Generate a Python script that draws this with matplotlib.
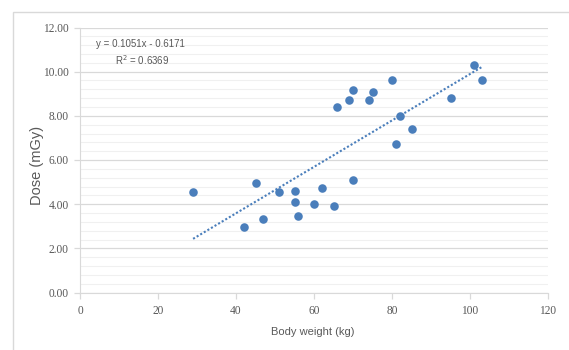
import matplotlib
matplotlib.use("Agg")
import matplotlib.pyplot as plt
import numpy as np
from matplotlib.patches import Rectangle

# body weight (kg) vs dose (mGy)
weight = [29, 42, 45, 47, 51, 55, 55, 56, 60, 62, 65, 66,
          69, 70, 70, 74, 75, 80, 81, 82, 85, 95, 101, 103]
dose = [4.56, 2.95, 4.94, 3.34, 4.56, 4.59, 4.08, 3.45, 4.02, 4.75, 3.93, 8.39,
        8.70, 9.17, 5.09, 8.73, 9.08, 9.64, 6.71, 8.01, 7.39, 8.80, 10.31, 9.64]

slope = 0.1051
intercept = -0.6171
r2 = 0.6369

xticks = [0, 20, 40, 60, 80, 100, 120]
yticks = [0, 2, 4, 6, 8, 10, 12]

blue = "#4a7ebb"
txt = "#595959"
sans = ["Liberation Sans", "DejaVu Sans"]
serif = ["Liberation Serif", "DejaVu Serif"]

fig = plt.figure(figsize=(5.69, 3.5), dpi=100)
ax = fig.add_axes([80 / 569, 1 - 292.5 / 350, 468 / 569, 265 / 350])

# chart area border (cut off on right/bottom like the original)
fig.patches.append(Rectangle((13 / 569, -0.1), 1.2, 1 - 12 / 350 + 0.1,
                             transform=fig.transFigure, fill=False,
                             edgecolor="#d9d9d9", lw=1.0))

ax.scatter(weight, dose, s=38, color=blue, zorder=3, linewidths=0)

xt = np.array([min(weight), max(weight)])
ax.plot(xt, slope * xt + intercept, color=blue, lw=1.5, ls=(0, (1, 1)), zorder=2)

ax.set_xlim(0, 120)
ax.set_ylim(0, 12)
ax.set_xticks(xticks)
ax.set_yticks(yticks)
ax.set_yticks(np.arange(0, 12.01, 0.4), minor=True)
ax.set_xticklabels([str(v) for v in xticks], fontfamily=serif, fontsize=8.3, color=txt)
ax.set_yticklabels(["%.2f" % v for v in yticks], fontfamily=serif, fontsize=8.3, color=txt)

ax.grid(axis="y", which="major", color="#d9d9d9", lw=0.9)
ax.grid(axis="y", which="minor", color="#f0f0f0", lw=0.8)
ax.set_axisbelow(True)
for s in ["top", "right"]:
    ax.spines[s].set_visible(False)
for s in ["left", "bottom"]:
    ax.spines[s].set_color("#d9d9d9")
ax.tick_params(axis="both", which="major", color="#d9d9d9", length=4, width=0.9)
ax.tick_params(axis="x", pad=5)
ax.tick_params(axis="y", pad=4)
ax.tick_params(which="minor", length=0)

ax.set_xlabel("Body weight (kg)", fontfamily=sans, fontsize=8, color=txt)
ax.set_ylabel("Dose (mGy)", fontfamily=sans, fontsize=10.5, color=txt)
ax.xaxis.set_label_coords((313 - 80) / 468, (292.5 - 332) / 265)
ax.yaxis.set_label_coords((37 - 80) / 468, (292.5 - 165) / 265)
ax.xaxis.label.set_va("center")
ax.yaxis.label.set_va("center")

fig.text(96 / 569, 1 - 44 / 350, "y = 0.1051x - 0.6171", fontfamily=sans,
         fontsize=7, color=txt, va="center", ha="left")
fig.text(115 / 569, 1 - 60.5 / 350, "R$^2$ = 0.6369", fontfamily=sans,
         fontsize=7, color=txt, va="center", ha="left")

fig.savefig("out.png", dpi=100)
